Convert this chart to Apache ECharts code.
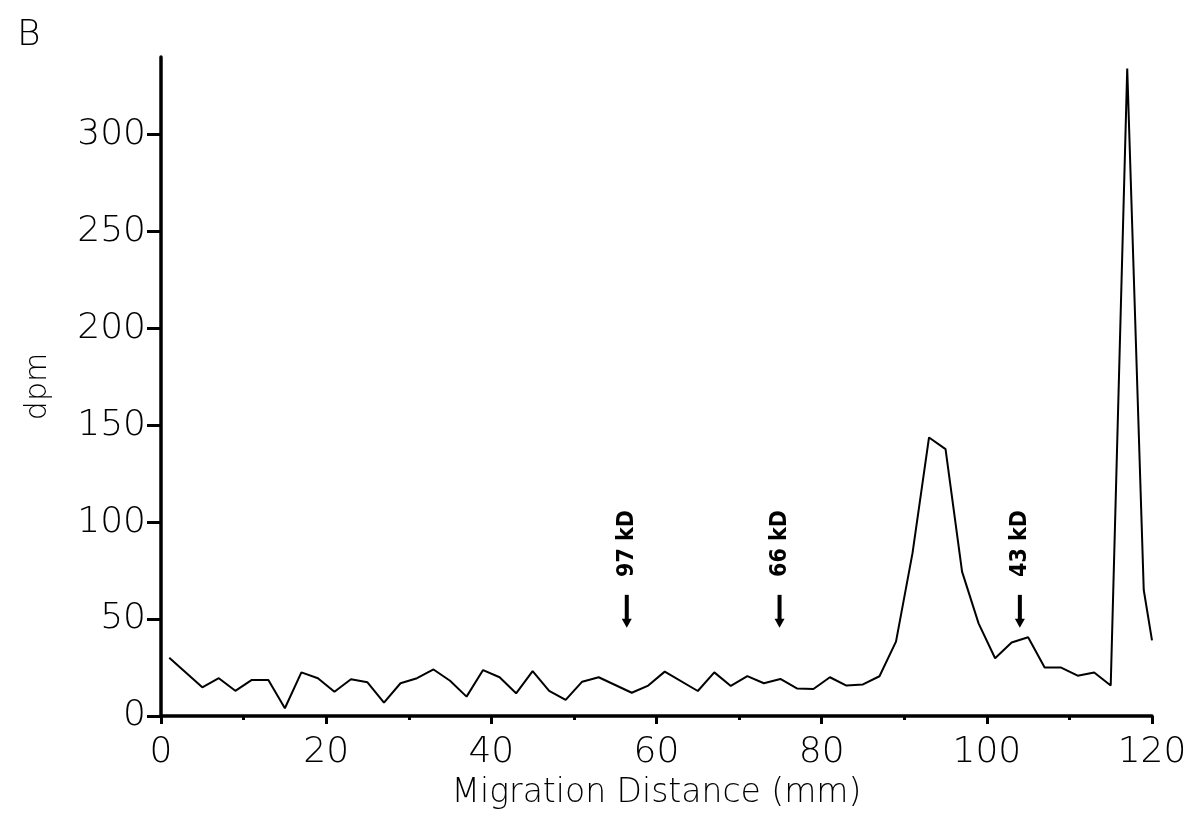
<!DOCTYPE html>
<html>
<head>
<meta charset="utf-8">
<title>dpm vs Migration Distance</title>
<script src="https://cdn.jsdelivr.net/npm/echarts@6/dist/echarts.min.js"></script>
<style>
  html, body { margin: 0; padding: 0; background: #ffffff; }
  #chart { width: 1193px; height: 835px; }
</style>
</head>
<body>
<div id="chart"></div>
<script>
// Radioactivity profile along the gel lane
const distanceMm = [1, 5, 7, 9, 11, 13, 15, 17, 19, 21, 23, 25, 27, 29, 31, 33, 35, 37, 39, 41,
  43, 45, 47, 49, 51, 53, 57, 59, 61, 65, 67, 69, 71, 73, 75, 77, 79, 81, 83, 85, 87,
  89, 91, 93, 95, 97, 99, 101, 103, 105, 107, 109, 111, 113, 115, 117, 119, 120];
const dpmValues = [30, 14.8, 19.5, 13, 18.6, 18.6, 4, 22.5, 19.5, 12.5, 19, 17.4, 6.9, 16.9, 19.5, 24, 18.2, 10, 23.7, 20,
  11.7, 23.2, 13, 8.3, 17.7, 20, 12, 15.7, 22.9, 12.9, 22.5, 15.5, 20.6, 16.9, 19.1, 14.2, 13.9, 20, 15.7, 16.3, 20.5,
  38.4, 84, 143.7, 137.7, 74.5, 47.8, 29.8, 37.9, 40.6, 25, 25, 20.8, 22.4, 15.7, 334, 65, 39];

// Molecular weight markers
const markerLabels = ['97 kD', '66 kD', '43 kD'];
const markerPositions = [56.4, 74.9, 104];
const arrowTop = 62.5;
const arrowTip = 45.5;
const markerLabelCenter = 89;

const yTicks = [0, 50, 100, 150, 200, 250, 300];

const profile = distanceMm.map((d, i) => [d, dpmValues[i]]);
const markers = markerPositions.map((p, i) => [p, arrowTop, arrowTip, markerLabelCenter, markerLabels[i]]);

const thinFont = '"DejaVu Sans", sans-serif';

const chart = echarts.init(document.getElementById('chart'), null, { renderer: 'canvas' });
chart.setOption({
  animation: false,
  backgroundColor: '#ffffff',
  title: {
    text: 'B',
    left: 12,
    top: 13,
    textStyle: { fontFamily: thinFont, fontWeight: 200, fontSize: 36, color: '#000' }
  },
  grid: { left: 161, right: 41, top: 57, bottom: 119 },
  xAxis: {
    type: 'value',
    min: 0,
    max: 120,
    interval: 20,
    name: 'Migration Distance (mm)',
    nameLocation: 'middle',
    nameGap: 61,
    nameMoveOverlap: false,
    nameTextStyle: { fontFamily: thinFont, fontWeight: 200, fontSize: 33, color: '#000' },
    axisLine: { show: true, lineStyle: { color: '#000', width: 3.5 } },
    axisTick: { show: true, length: 8, lineStyle: { color: '#000', width: 3 } },
    minorTick: { show: true, splitNumber: 2, length: 4, lineStyle: { color: '#000', width: 3 } },
    axisLabel: { margin: 19, fontFamily: thinFont, fontWeight: 200, fontSize: 36, color: '#000' },
    splitLine: { show: false },
    minorSplitLine: { show: false }
  },
  yAxis: {
    type: 'value',
    min: 0,
    max: 340,
    interval: 50,
    name: 'dpm',
    nameLocation: 'middle',
    nameGap: 108,
    nameRotate: 90,
    nameMoveOverlap: false,
    nameTextStyle: { fontFamily: thinFont, fontWeight: 200, fontSize: 30, color: '#000' },
    axisLine: { show: true, lineStyle: { color: '#000', width: 3.5 } },
    axisTick: { show: true, length: 14, customValues: yTicks, lineStyle: { color: '#000', width: 3 } },
    axisLabel: { margin: 15, customValues: yTicks, fontFamily: thinFont, fontWeight: 200, fontSize: 36, color: '#000' },
    splitLine: { show: false }
  },
  series: [
    {
      type: 'line',
      data: profile,
      symbol: 'none',
      lineStyle: { color: '#000', width: 2 },
      z: 3
    },
    {
      type: 'custom',
      data: markers,
      z: 4,
      renderItem: function (params, api) {
        const top = api.coord([api.value(0), api.value(1)]);
        const tip = api.coord([api.value(0), api.value(2)]);
        const mid = api.coord([api.value(0), api.value(3)]);
        const headH = 9, headW = 5;
        return {
          type: 'group',
          children: [
            {
              type: 'line',
              shape: { x1: top[0], y1: top[1], x2: tip[0], y2: tip[1] - headH + 1 },
              style: { stroke: '#000', lineWidth: 4 }
            },
            {
              type: 'polygon',
              shape: { points: [[tip[0] - headW, tip[1] - headH], [tip[0] + headW, tip[1] - headH], [tip[0], tip[1]]] },
              style: { fill: '#000' }
            },
            {
              type: 'text',
              x: mid[0],
              y: mid[1],
              rotation: Math.PI / 2,
              style: {
                text: markerLabels[params.dataIndex],
                fontFamily: '"DejaVu Sans Condensed", "DejaVu Sans", sans-serif',
                fontWeight: 'bold',
                fontSize: 23,
                fill: '#000',
                align: 'center',
                verticalAlign: 'middle'
              }
            }
          ]
        };
      }
    }
  ]
});
</script>
</body>
</html>
